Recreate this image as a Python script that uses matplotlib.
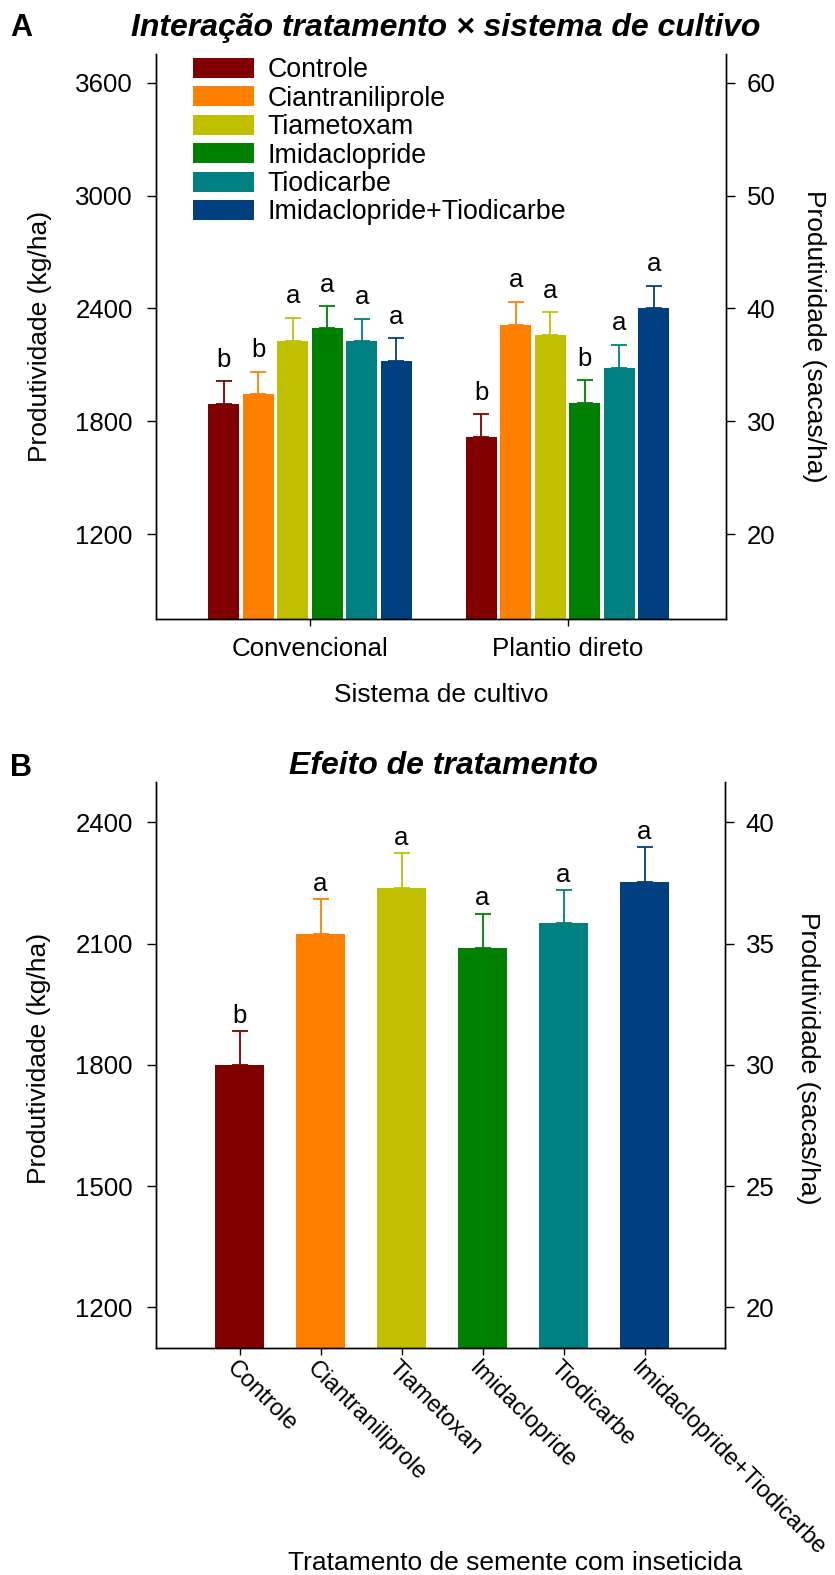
import matplotlib
matplotlib.use("Agg")
import matplotlib.pyplot as plt
import matplotlib.transforms as mtransforms
import numpy as np

plt.rcParams['font.family'] = ['Liberation Sans', 'DejaVu Sans']

# dados
tratamentos = ['Controle', 'Ciantraniliprole', 'Tiametoxam', 'Imidaclopride',
               'Tiodicarbe', 'Imidaclopride+Tiodicarbe']
tratamentos_b = ['Controle', 'Ciantraniliprole', 'Tiametoxan', 'Imidaclopride',
                 'Tiodicarbe', 'Imidaclopride+Tiodicarbe']
cores = ['#800000', '#FF8000', '#C0C000', '#008000', '#008080', '#004080']
sistemas = ['Convencional', 'Plantio direto']

# painel A: média e erro (kg/ha)
conv = [1893, 1947, 2225, 2294, 2225, 2118]
conv_err = [120, 117, 125, 117, 120, 122]
conv_letras = ['b', 'b', 'a', 'a', 'a', 'a']
pd_ = [1714, 2313, 2259, 1895, 2083, 2401]
pd_err = [122, 122, 120, 122, 123, 120]
pd_letras = ['b', 'a', 'a', 'b', 'a', 'a']

# painel B
media_b = [1800, 2125, 2237, 2089, 2150, 2253]
err_b = [83, 85, 87, 85, 83, 85]
letras_b = ['b', 'a', 'a', 'a', 'a', 'a']

W, H = 835, 1575
fig = plt.figure(figsize=(W / 100, H / 100), dpi=100)

def px(x, y):
    return x / W, 1 - y / H

def estilo(ax, ax2):
    for a in (ax, ax2):
        a.spines['top'].set_visible(False)
        for s in a.spines.values():
            s.set_linewidth(1.0)
    ax.tick_params(axis='y', direction='out', length=6.5, width=1.0, pad=10, labelsize=18.6)
    ax.tick_params(axis='x', direction='out', length=5, width=1.0, labelsize=18.6)
    ax2.tick_params(axis='y', direction='out', length=6.5, width=1.0, pad=8.5, labelsize=18.6)

# ---------------- painel A ----------------
axA = fig.add_axes([155.7 / W, 1 - 618.7 / H, 570 / W, 564.2 / H])
ylimA = (750, 3750)
passo = 0.134
larg = 0.12
xg = np.arange(len(sistemas))
for i, t in enumerate(tratamentos):
    xs = xg + (i - 2.5) * passo
    vals = [conv[i], pd_[i]]
    errs = [conv_err[i], pd_err[i]]
    axA.bar(xs, vals, larg, color=cores[i], label=t, zorder=2)
    axA.errorbar(xs, vals, yerr=[np.zeros(2), errs], fmt='none', ecolor=cores[i],
                 elinewidth=1.3, capsize=6, capthick=1.3, zorder=3)
    for xx, v, e, l in zip(xs, vals, errs, [conv_letras[i], pd_letras[i]]):
        axA.annotate(l, (xx, v + e), xytext=(0, 10.5), textcoords='offset points',
                     ha='center', va='baseline', fontsize=18.5)
axA.set_xlim(-0.599, 1.614)
axA.set_ylim(*ylimA)
axA.set_xticks(xg)
axA.set_xticklabels(sistemas)
axA.set_yticks([1200, 1800, 2400, 3000, 3600])
axA2 = axA.twinx()
axA2.set_ylim(ylimA[0] / 60, ylimA[1] / 60)
axA2.set_yticks([20, 30, 40, 50, 60])
estilo(axA, axA2)
axA.tick_params(axis='x', pad=8.5)
axA.legend(loc='upper left', bbox_to_anchor=(0.0654, 0.995), frameon=False,
           fontsize=19.3, borderpad=0, borderaxespad=0, labelspacing=0.09,
           handlelength=2.27, handleheight=0.77, handletextpad=0.52)

fig.text(*px(10, 36), 'A', fontsize=22, fontweight='bold', ha='left', va='baseline')
fig.text(*px(446, 36), 'Interação tratamento × sistema de cultivo', fontsize=23,
         fontweight='bold', style='italic', ha='center', va='baseline')
fig.text(*px(40, 336), 'Produtividade (kg/ha)', fontsize=19, rotation=90,
         ha='center', va='center')
fig.text(*px(814, 336), 'Produtividade (sacas/ha)', fontsize=19, rotation=270,
         ha='center', va='center')
fig.text(*px(441, 695), 'Sistema de cultivo', fontsize=19, ha='center', va='center')

# ---------------- painel B ----------------
axB = fig.add_axes([155.7 / W, 1 - 1347.7 / H, 569 / W, 565.7 / H])
ylimB = (1100, 2500)
xb = np.arange(len(tratamentos_b))
for i in range(len(xb)):
    axB.bar(xb[i], media_b[i], 0.6, color=cores[i], zorder=2)
    axB.errorbar(xb[i], media_b[i], yerr=[[0], [err_b[i]]], fmt='none', ecolor=cores[i],
                 elinewidth=1.3, capsize=6, capthick=1.3, zorder=3)
    axB.annotate(letras_b[i], (xb[i], media_b[i] + err_b[i]), xytext=(0, 6),
                 textcoords='offset points', ha='center', va='baseline', fontsize=18.5)
axB.set_xlim(-1.035, 5.99)
axB.set_ylim(*ylimB)
axB.set_xticks(xb)
axB.set_yticks([1200, 1500, 1800, 2100, 2400])
axB2 = axB.twinx()
axB2.set_ylim(ylimB[0] / 60, ylimB[1] / 60)
axB2.set_yticks([20, 25, 30, 35, 40])
estilo(axB, axB2)
axB.tick_params(axis='x', pad=2)
axB.set_xticklabels(tratamentos_b, rotation=-45, ha='left', va='top',
                    rotation_mode='anchor', fontsize=17)
desloc = mtransforms.ScaledTranslation(-2 / 100, 0, fig.dpi_scale_trans)
for lab in axB.get_xticklabels():
    lab.set_transform(lab.get_transform() + desloc)

fig.text(*px(10, 776), 'B', fontsize=22, fontweight='bold', ha='left', va='baseline')
fig.text(*px(443, 774), 'Efeito de tratamento', fontsize=23,
         fontweight='bold', style='italic', ha='center', va='baseline')
fig.text(*px(39, 1058), 'Produtividade (kg/ha)', fontsize=19, rotation=90,
         ha='center', va='center')
fig.text(*px(808, 1058), 'Produtividade (sacas/ha)', fontsize=19, rotation=270,
         ha='center', va='center')
fig.text(*px(515, 1570), 'Tratamento de semente com inseticida', fontsize=19,
         ha='center', va='baseline')

fig.savefig('out.png', dpi=100)
